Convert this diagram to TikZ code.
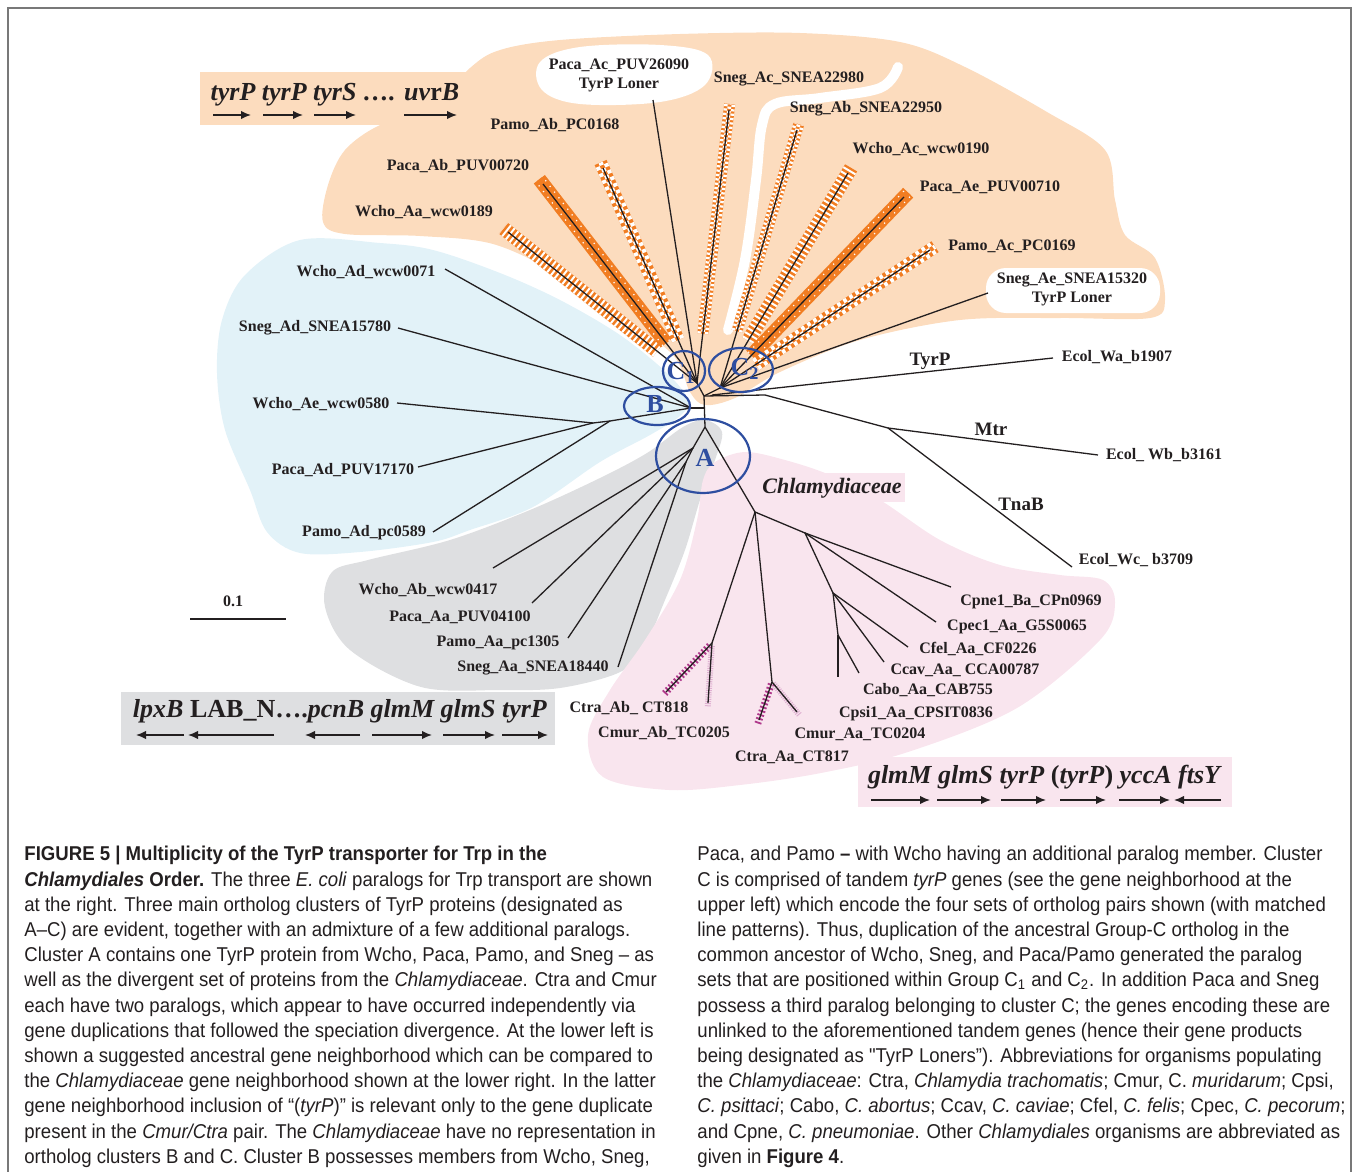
\documentclass[tikz,border=0pt]{standalone}
\usepackage{fontspec}
\setmainfont{Liberation Serif}
\newfontfamily\capfont{Liberation Sans}[FakeStretch=0.93]
\usetikzlibrary{arrows.meta, positioning, calc, shapes.geometric}
\definecolor{tyorange}{RGB}{241,125,34}
\definecolor{tyorangefill}{RGB}{252,220,190}
\definecolor{tybluefill}{RGB}{226,242,248}
\definecolor{tygreyfill}{RGB}{222,223,225}
\definecolor{typinkfill}{RGB}{249,229,238}
\definecolor{tymagenta}{RGB}{176,58,140}
\definecolor{tycircle}{RGB}{46,78,160}
\definecolor{tyink}{RGB}{35,31,32}
\definecolor{tyframe}{RGB}{120,120,120}
\tikzset{
  branch/.style    = {line width=0.65pt, draw=tyink},
  leaflab/.style   = {font=\bfseries\fontsize{8}{9.5}\selectfont, text=tyink, inner sep=0pt, align=center},
  famlab/.style    = {font=\bfseries\fontsize{9.5}{11}\selectfont, text=tyink, inner sep=0pt},
  clulab/.style    = {font=\bfseries\fontsize{13}{14}\selectfont, text=tycircle, inner sep=0pt},
  cluring/.style   = {ellipse, draw=tycircle, line width=1.1pt, inner sep=0pt},
  genetxt/.style   = {font=\bfseries\itshape\fontsize{13}{15}\selectfont, text=tyink, inner sep=0pt},
  genearrow/.style = {-{Latex[length=5pt,width=4.2pt]}, line width=0.75pt, draw=tyink},
  capbox/.style    = {font=\capfont\fontsize{10}{12.6}\selectfont, text=tyink, align=left,
                      anchor=north west, inner sep=0pt},
  stripeband/.style = {line width=7pt, draw=tyorange,
                      postaction={draw=white, dash pattern=on 1pt off 1.4pt}},
  solidband/.style  = {line width=7pt, draw=tyorange,
                      postaction={draw=white, line width=4.8pt, dash pattern=on 0.6pt off 3pt,
                        postaction={draw=tyorange, solid, line width=3.4pt}}},
  checkbig/.style   = {line width=6.5pt, draw=tyorange,
                      postaction={draw=white, dash pattern=on 1.8pt off 1.8pt,
                        postaction={draw=tyorange, solid, line width=2.2pt,
                          postaction={draw=white, dash pattern=on 1.8pt off 1.8pt, dash phase=1.8pt}}}},
  checksmall/.style = {line width=5.5pt, draw=tyorange,
                      postaction={draw=white, dash pattern=on 1.1pt off 1.1pt,
                        postaction={draw=tyorange, solid, line width=1.9pt,
                          postaction={draw=white, dash pattern=on 1.1pt off 1.1pt, dash phase=1.1pt}}}},
  ctrahatch/.style  = {line width=3.5pt, draw=tymagenta, dash pattern=on 0.9pt off 1.1pt},
  cmurdot/.style    = {line width=3pt, draw=tymagenta!40, dash pattern=on 0.5pt off 0.6pt},
}
\begin{document}
\begin{tikzpicture}[x=0.5pt, y=-0.5pt]
\useasboundingbox (0,0) rectangle (1354,1172);

% ---------- Cluster regions ----------
\fill[tyorangefill] plot[smooth cycle, tension=0.55] coordinates {(470,68) (500,50) (560,40) (680,34)
  (800,33) (900,42) (965,67) (1047,112) (1105,150) (1115,200) (1125,235) (1155,258) (1165,300)
  (1150,318) (1060,318) (960,320) (860,340) (780,372) (735,398) (705,405) (690,392) (673,355)
  (620,315) (560,275) (493,244) (420,236) (345,234) (323,222) (328,185) (345,150) (380,125) (430,110)};
\fill[tyorangefill] (200,72) rectangle (472,125);
\fill[white] plot[smooth cycle, tension=0.6] coordinates {(540,62) (580,47) (660,45) (708,55)
  (705,85) (660,102) (580,104) (542,90)};
\fill[white, rounded corners=10pt] (986,268) rectangle (1160,313);
\draw[white, line width=5pt, line cap=round] plot[smooth, tension=0.6] coordinates {(898,67) (880,88)
  (820,98) (775,104) (762,125) (756,180) (745,260) (728,330)};
\fill[tybluefill] plot[smooth cycle, tension=0.55] coordinates {(300,240) (380,243) (433,250) (500,273)
  (560,300) (620,335) (667,373) (688,400) (680,416) (650,435) (600,462) (533,507) (470,530) (433,542)
  (360,552) (300,553) (267,532) (250,490) (225,430) (217,373) (222,320) (245,275)};
\fill[tygreyfill] plot[smooth cycle, tension=0.55] coordinates {(368,560) (450,540) (530,510) (600,478)
  (647,453) (683,427) (705,420) (722,432) (715,460) (700,500) (685,550) (665,600) (643,650) (618,673)
  (560,688) (500,690) (421,687) (350,650) (325,607) (332,572)};
\fill[typinkfill] plot[smooth cycle, tension=0.55] coordinates {(715,462) (745,452) (785,460) (830,475)
  (880,500) (940,540) (1000,565) (1060,575) (1103,580) (1115,603) (1100,640) (1017,708) (908,752)
  (821,773) (740,785) (669,790) (603,777) (588,735) (610,690) (645,640) (680,580) (697,520) (703,480)};
\fill[typinkfill] (757,473) rectangle (905,502);
\fill[tygreyfill] (121,692) rectangle (555,745);
\fill[typinkfill] (858,757) rectangle (1232,807);

% ---------- Tree vertices ----------
\coordinate (r) at (704,396);
\coordinate (bs) at (704,408);
\coordinate (a0) at (705,427);
\coordinate (c1) at (697,383);
\coordinate (c2) at (720,388);
\coordinate (ec0) at (712,395);
\coordinate (ec1) at (765,395);
\coordinate (mt) at (888,428);
\coordinate (wa) at (1053,358);
\coordinate (wb) at (1098,455);
\coordinate (wc) at (1072,567);
% cluster C
\coordinate (waa) at (508,232);
\coordinate (pab) at (543,184);
\coordinate (mab) at (603,168);
\coordinate (sac) at (729,110);
\coordinate (pac) at (653,100);
\coordinate (sab) at (797,130);
\coordinate (wac) at (848,173);
\coordinate (pae) at (904,197);
\coordinate (mac) at (930,250);
\coordinate (sae) at (988,293);
% cluster B
\coordinate (bn) at (691,408);
\coordinate (b3) at (610,421);
\coordinate (b2) at (593,423);
\coordinate (wad) at (445,269);
\coordinate (sad) at (398,328);
\coordinate (wae) at (397,403);
\coordinate (pad) at (418,467);
\coordinate (mad) at (433,532);
% cluster A
\coordinate (a1) at (693,448);
\coordinate (a2) at (686,462);
\coordinate (wab) at (493,568);
\coordinate (paa) at (532,603);
\coordinate (maa) at (568,638);
\coordinate (saa) at (618,667);
% Chlamydiaceae
\coordinate (ch) at (755,512);
\coordinate (n2) at (805,533);
\coordinate (n3) at (833,593);
\coordinate (n4) at (838,635);
\coordinate (cpne) at (951,587);
\coordinate (cpec) at (936,622);
\coordinate (cfel) at (908,647);
\coordinate (ccav) at (884,662);
\coordinate (cabo) at (838,677);
\coordinate (cpsi) at (859,673);
\coordinate (p1) at (712,643);
\coordinate (ctab) at (666,692);
\coordinate (cmab) at (708,703);
\coordinate (p2) at (772,682);
\coordinate (ctaa) at (759,720);
\coordinate (cmaa) at (797,712);

% ---------- Paralog bands ----------
\draw[stripeband] ($(c1)!0.21!(waa)$) -- ($(waa)!-3pt!(c1)$);
\draw[solidband] ($(c1)!0.2!(pab)$) -- ($(pab)!-3pt!(c1)$);
\draw[checkbig] ($(c1)!0.2!(mab)$) -- ($(mab)!-3pt!(c1)$);
\draw[checksmall] ($(c1)!0.18!(sac)$) -- ($(sac)!-3pt!(c1)$);
\draw[checksmall] ($(c2)!0.22!(sab)$) -- ($(sab)!-3pt!(c2)$);
\draw[stripeband] ($(c2)!0.22!(wac)$) -- ($(wac)!-3pt!(c2)$);
\draw[solidband] ($(c2)!0.17!(pae)$) -- ($(pae)!-3pt!(c2)$);
\draw[checkbig] ($(c2)!0.17!(mac)$) -- ($(mac)!-3pt!(c2)$);
\draw[ctrahatch] ($(p1)!0.05!(ctab)$) -- ($(ctab)!-2pt!(p1)$);
\draw[cmurdot] ($(p1)!0.05!(cmab)$) -- ($(cmab)!-2pt!(p1)$);
\draw[ctrahatch] ($(p2)!0.05!(ctaa)$) -- ($(ctaa)!-2pt!(p2)$);
\draw[cmurdot] ($(p2)!0.05!(cmaa)$) -- ($(cmaa)!-2pt!(p2)$);

% ---------- Branches ----------
\foreach \p/\q in {r/a0, bs/bn, r/c1, r/c2, r/ec1, ec0/wa, ec1/mt, mt/wb, mt/wc,
    c1/waa, c1/pab, c1/mab, c1/sac, c1/pac, c2/sab, c2/wac, c2/pae, c2/mac, c2/sae,
    bn/wad, bn/sad, bn/b3, b3/b2, b2/wae, b2/pad, b3/mad,
    a0/a1, a1/wab, a1/paa, a1/a2, a2/maa, a2/saa,
    a0/ch, ch/n2, n2/cpne, n2/cpec, n2/n3, n3/cfel, n3/ccav, n3/n4, n4/cabo, n4/cpsi,
    ch/p1, p1/ctab, p1/cmab, ch/p2, p2/ctaa, p2/cmaa}
  \draw[branch] (\p) -- (\q);

% ---------- Cluster rings ----------
\node[cluring, minimum width=21pt, minimum height=20pt] (ringC1) at (684,371) {};
\node[cluring, minimum width=32pt, minimum height=22pt] (ringC2) at (741,370) {};
\node[cluring, minimum width=33pt, minimum height=19pt] (ringB) at (657,406) {};
\node[cluring, minimum width=47pt, minimum height=37pt] (ringA) at (703,456) {};
\node[clulab] (labC1) at (681,373) {C\textsubscript{1}};
\node[clulab] (labC2) at (745,369) {C\textsubscript{2}};
\node[clulab] (labB) at (655,404) {B};
\node[clulab] (labA) at (705,458) {A};

% ---------- Leaf labels ----------
\node[leaflab] (tWaa) at (424,212) {Wcho\_Aa\_wcw0189};
\node[leaflab] (tPab) at (458,166) {Paca\_Ab\_PUV00720};
\node[leaflab] (tMab) at (555,125) {Pamo\_Ab\_PC0168};
\node[leaflab] (tPac) at (619,75) {Paca\_Ac\_PUV26090\\TyrP Loner};
\node[leaflab] (tSac) at (789,79) {Sneg\_Ac\_SNEA22980};
\node[leaflab] (tSab) at (866,109) {Sneg\_Ab\_SNEA22950};
\node[leaflab] (tWac) at (921,149) {Wcho\_Ac\_wcw0190};
\node[leaflab] (tPae) at (990,187) {Paca\_Ae\_PUV00710};
\node[leaflab] (tMac) at (1012,246) {Pamo\_Ac\_PC0169};
\node[leaflab] (tSae) at (1072,289) {Sneg\_Ae\_SNEA15320\\TyrP Loner};
\node[leaflab] (tWad) at (366,272) {Wcho\_Ad\_wcw0071};
\node[leaflab] (tSad) at (315,328) {Sneg\_Ad\_SNEA15780};
\node[leaflab] (tWae) at (321,404) {Wcho\_Ae\_wcw0580};
\node[leaflab] (tPad) at (343,470) {Paca\_Ad\_PUV17170};
\node[leaflab] (tMad) at (364,533) {Pamo\_Ad\_pc0589};
\node[leaflab] (tWab) at (428,590) {Wcho\_Ab\_wcw0417};
\node[leaflab] (tPaa) at (460,617) {Paca\_Aa\_PUV04100};
\node[leaflab] (tMaa) at (498,643) {Pamo\_Aa\_pc1305};
\node[leaflab] (tSaa) at (533,668) {Sneg\_Aa\_SNEA18440};
\node[leaflab] (tWa) at (1117,357) {Ecol\_Wa\_b1907};
\node[leaflab] (tWb) at (1164,455) {Ecol\_ Wb\_b3161};
\node[leaflab] (tWc) at (1136,560) {Ecol\_Wc\_ b3709};
\node[leaflab] (tCpne) at (1031,602) {Cpne1\_Ba\_CPn0969};
\node[leaflab] (tCpec) at (1017,627) {Cpec1\_Aa\_G5S0065};
\node[leaflab] (tCfel) at (978,649) {Cfel\_Aa\_CF0226};
\node[leaflab] (tCcav) at (965,670) {Ccav\_Aa\_ CCA00787};
\node[leaflab] (tCabo) at (928,690) {Cabo\_Aa\_CAB755};
\node[leaflab] (tCpsi) at (916,714) {Cpsi1\_Aa\_CPSIT0836};
\node[leaflab] (tCmaa) at (860,734) {Cmur\_Aa\_TC0204};
\node[leaflab] (tCtaa) at (792,757) {Ctra\_Aa\_CT817};
\node[leaflab] (tCtab) at (629,708) {Ctra\_Ab\_ CT818};
\node[leaflab] (tCmab) at (664,733) {Cmur\_Ab\_TC0205};

% ---------- Family labels ----------
\node[famlab] (fTyrP) at (930,361) {TyrP};
\node[famlab] (fMtr) at (991,429) {Mtr};
\node[famlab] (fTnaB) at (1021,504) {TnaB};
\node[famlab, font=\bfseries\itshape\fontsize{11}{12}\selectfont] (fChlam) at (832,488) {Chlamydiaceae};

% ---------- Scale bar ----------
\coordinate (sb1) at (190,619);
\coordinate (sb2) at (286,619);
\draw[branch] (sb1) -- (sb2);
\node[leaflab] (sbl) at (233,601) {0.1};

% ---------- Gene neighborhoods ----------
\node[genetxt] (nbC) at (335,95) {tyrP tyrP tyrS …. \textit{uv}\textup{r}\textit{B}};
\foreach \s/\e [count=\i] in {213/251, 263/303, 314/356, 404/457} {
  \coordinate (uc\i) at (\s,115); \coordinate (vc\i) at (\e,115);
  \draw[genearrow] (uc\i) -- (vc\i);
}
\node[genetxt, font=\bfseries\fontsize{13}{15}\selectfont] (nbA) at (340,711)
  {\textit{lpxB} LAB\_N….\textit{pcnB glmM glmS tyrP}};
\foreach \s/\e [count=\i] in {184/136, 274/188, 360/305, 372/432, 443/495, 502/548} {
  \coordinate (ua\i) at (\s,735); \coordinate (va\i) at (\e,735);
  \draw[genearrow] (ua\i) -- (va\i);
}
\node[genetxt, font=\bfseries\fontsize{13}{15}\selectfont] (nbP) at (1045,777)
  {\textit{glmM glmS tyrP} (\textit{tyrP}) \textit{yccA ftsY}};
\foreach \s/\e [count=\i] in {871/930, 937/991, 1001/1046, 1060/1106, 1119/1170, 1221/1174} {
  \coordinate (up\i) at (\s,800); \coordinate (vp\i) at (\e,800);
  \draw[genearrow] (up\i) -- (vp\i);
}

% ---------- Frame ----------
\draw[tyframe, line width=0.8pt] (8,1172) -- (8,8) -- (1351,8) -- (1351,1172);

% ---------- Caption ----------
\node[capbox] (capL) at (24,846) {%
\textbf{FIGURE 5 | Multiplicity of the TyrP transporter for Trp in the}\\
\textbf{\textit{Chlamydiales} Order.} The three \textit{E. coli} paralogs for Trp transport are shown\\
at the right. Three main ortholog clusters of TyrP proteins (designated as\\
A–C) are evident, together with an admixture of a few additional paralogs.\\
Cluster A contains one TyrP protein from Wcho, Paca, Pamo, and Sneg – as\\
well as the divergent set of proteins from the \textit{Chlamydiaceae}. Ctra and Cmur\\
each have two paralogs, which appear to have occurred independently via\\
gene duplications that followed the speciation divergence. At the lower left is\\
shown a suggested ancestral gene neighborhood which can be compared to\\
the \textit{Chlamydiaceae} gene neighborhood shown at the lower right. In the latter\\
gene neighborhood inclusion of “(\textit{tyrP})” is relevant only to the gene duplicate\\
present in the \textit{Cmur/Ctra} pair. The \textit{Chlamydiaceae} have no representation in\\
ortholog clusters B and C. Cluster B possesses members from Wcho, Sneg,};
\node[capbox] (capR) at (697,846) {%
Paca, and Pamo \textbf{–} with Wcho having an additional paralog member. Cluster\\
C is comprised of tandem \textit{tyrP} genes (see the gene neighborhood at the\\
upper left) which encode the four sets of ortholog pairs shown (with matched\\
line patterns). Thus, duplication of the ancestral Group-C ortholog in the\\
common ancestor of Wcho, Sneg, and Paca/Pamo generated the paralog\\
sets that are positioned within Group C\textsubscript{1} and C\textsubscript{2}. In addition Paca and Sneg\\
possess a third paralog belonging to cluster C; the genes encoding these are\\
unlinked to the aforementioned tandem genes (hence their gene products\\
being designated as "TyrP Loners”). Abbreviations for organisms populating\\
the \textit{Chlamydiaceae}: Ctra, \textit{Chlamydia trachomatis}; Cmur, C. \textit{muridarum}; Cpsi,\\
\textit{C. psittaci}; Cabo, \textit{C. abortus}; Ccav, \textit{C. caviae}; Cfel, \textit{C. felis}; Cpec, \textit{C. pecorum};\\
and Cpne, \textit{C. pneumoniae}. Other \textit{Chlamydiales} organisms are abbreviated as\\
given in \textbf{Figure 4}.};

\end{tikzpicture}
\end{document}
